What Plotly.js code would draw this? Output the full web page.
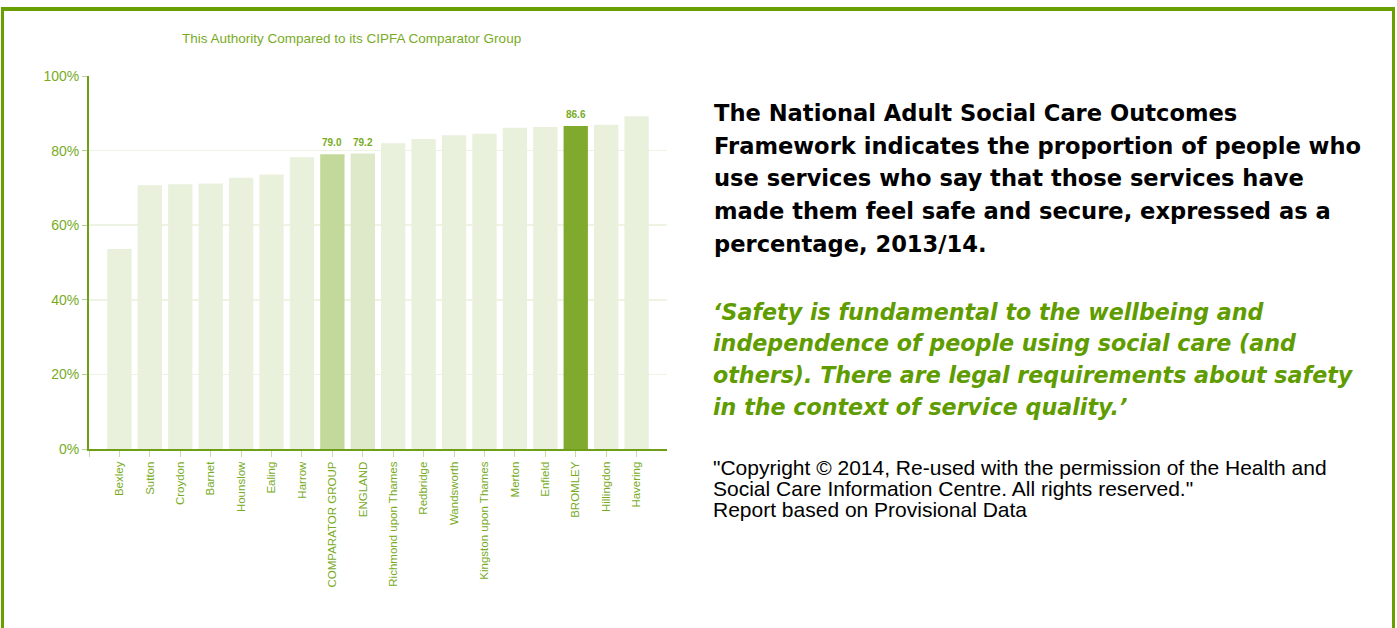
<!DOCTYPE html>
<html>
<head>
<meta charset="utf-8">
<script src="https://cdn.plot.ly/plotly-3.0.1.min.js"></script>
<style>
  html, body { margin: 0; padding: 0; background: #ffffff; }
  #wrap { position: relative; width: 1397px; height: 628px; overflow: hidden; background: #ffffff; }
  #chart { position: absolute; left: 0; top: 0; width: 1397px; height: 628px; }
  .edge { position: absolute; background: #68a000; }
</style>
</head>
<body>
<div id="wrap">
  <div id="chart"></div>
  <div class="edge" style="left:1px; top:7px; width:1394px; height:4px;"></div>
  <div class="edge" style="left:1px; top:7px; width:3px; height:621px;"></div>
  <div class="edge" style="left:1392px; top:7px; width:3px; height:621px;"></div>
</div>
<script>
// ---- data ----
const categories = ["Bexley", "Sutton", "Croydon", "Barnet", "Hounslow", "Ealing", "Harrow",
  "COMPARATOR GROUP", "ENGLAND", "Richmond upon Thames", "Redbridge", "Wandsworth",
  "Kingston upon Thames", "Merton", "Enfield", "BROMLEY", "Hillingdon", "Havering"];
const values = [53.6, 70.7, 71.0, 71.2, 72.7, 73.6, 78.2, 79.0, 79.2, 82.0, 83.1, 84.1,
  84.5, 86.1, 86.3, 86.6, 86.9, 89.2];
const labelledCategories = ["COMPARATOR GROUP", "ENGLAND", "BROMLEY"];
const yTickValues = [0, 20, 40, 60, 80, 100];

const chartTitle = "This Authority Compared to its CIPFA Comparator Group";
const headingLines = [
  "The National Adult Social Care Outcomes",
  "Framework indicates the proportion of people who",
  "use services who say that those services have",
  "made them feel safe and secure, expressed as a",
  "percentage, 2013/14."
];
const quoteLines = [
  "\u2018Safety is fundamental to the wellbeing and",
  "independence of people using social care (and",
  "others). There are legal requirements about safety",
  "in the context of service quality.\u2019"
];
const noteLines = [
  "\"Copyright \u00a9 2014, Re-used with the permission of the Health and",
  "Social Care Information Centre. All rights reserved.\"",
  "Report based on Provisional Data"
];

// ---- styles ----
const GREEN_TEXT = "#78ab1f";
const AXIS_GREEN = "#6f9f18";
const colorFor = {
  "COMPARATOR GROUP": "#c3d99c",
  "ENGLAND": "#dde9c8",
  "BROMLEY": "#80aa2e"
};
const LIGHT = "#e9f1dd";

const W = 1397, H = 628;
const M = {l: 89, r: 730, t: 76, b: 179};
const plotW = W - M.l - M.r, plotH = H - M.t - M.b;
const px2x = px => (px - M.l) / plotW;
const py2y = py => (H - M.b - py) / plotH;

const idx = categories.map((c, i) => i);

const barTrace = {
  type: "bar",
  x: idx,
  y: values,
  width: 0.8,
  marker: {color: categories.map(c => colorFor[c] || LIGHT), line: {width: 0}},
  hoverinfo: "skip"
};

const annotations = [];
annotations.push({
  xref: "paper", yref: "paper", x: px2x(351), y: py2y(39),
  xanchor: "center", yanchor: "middle", showarrow: false,
  text: chartTitle, font: {family: "Arial, 'Liberation Sans', sans-serif", size: 13.5, color: GREEN_TEXT}
});
categories.forEach((c, i) => {
  if (labelledCategories.includes(c)) {
    annotations.push({
      xref: "x", yref: "y", x: i, y: values[i], xanchor: "center", yanchor: "bottom",
      yshift: 4, showarrow: false, text: "<b>" + values[i].toFixed(1) + "</b>",
      font: {family: "Arial, 'Liberation Sans', sans-serif", size: 10, color: GREEN_TEXT}
    });
  }
});
const headY = [113, 146, 178, 211, 244];
headingLines.forEach((t, i) => annotations.push({
  xref: "paper", yref: "paper", x: px2x(712), y: py2y(headY[i]), xanchor: "left", yanchor: "middle",
  showarrow: false, text: "<b>" + t + "</b>", align: "left",
  font: {family: "'DejaVu Sans', sans-serif", size: 22.6, color: "#000000"}
}));
const quoteY = [312, 343, 375, 407];
quoteLines.forEach((t, i) => annotations.push({
  xref: "paper", yref: "paper", x: px2x(711), y: py2y(quoteY[i]), xanchor: "left", yanchor: "middle",
  showarrow: false, text: "<b><i>" + t + "</i></b>", align: "left",
  font: {family: "'DejaVu Sans', sans-serif", size: 22.2, color: "#5f9c00"}
}));
const noteY = [467, 488, 510];
noteLines.forEach((t, i) => annotations.push({
  xref: "paper", yref: "paper", x: px2x(711), y: py2y(noteY[i]), xanchor: "left", yanchor: "middle",
  showarrow: false, text: t, align: "left",
  font: {family: "Arial, 'Liberation Sans', sans-serif", size: 21, color: "#000000"}
}));

const layout = {
  width: W, height: H,
  margin: M,
  paper_bgcolor: "rgba(0,0,0,0)",
  plot_bgcolor: "rgba(0,0,0,0)",
  showlegend: false,
  bargap: 0.2,
  font: {family: "Arial, 'Liberation Sans', sans-serif", color: GREEN_TEXT},
  xaxis: {
    type: "linear",
    range: [-1, categories.length],
    tickmode: "array",
    tickvals: [-1].concat(idx),
    ticktext: [""].concat(categories),
    tickangle: -90,
    tickfont: {size: 11.5, color: GREEN_TEXT},
    ticks: "outside", ticklen: 6, tickwidth: 1, tickcolor: "#c8dba6",
    showgrid: false, zeroline: false,
    showline: true, linecolor: AXIS_GREEN, linewidth: 2,
    fixedrange: true
  },
  yaxis: {
    range: [0, 100],
    tickmode: "array",
    tickvals: yTickValues,
    ticktext: yTickValues.map(v => v + "%"),
    tickfont: {size: 14, color: GREEN_TEXT},
    ticks: "outside", ticklen: 5, tickwidth: 1, tickcolor: "#b9d28e",
    showgrid: true, gridcolor: "#eef4e3", gridwidth: 1.5,
    zeroline: false,
    showline: true, linecolor: AXIS_GREEN, linewidth: 2,
    fixedrange: true
  },
  annotations: annotations
};

Plotly.newPlot("chart", [barTrace], layout, {staticPlot: true, displayModeBar: false});
</script>
</body>
</html>
